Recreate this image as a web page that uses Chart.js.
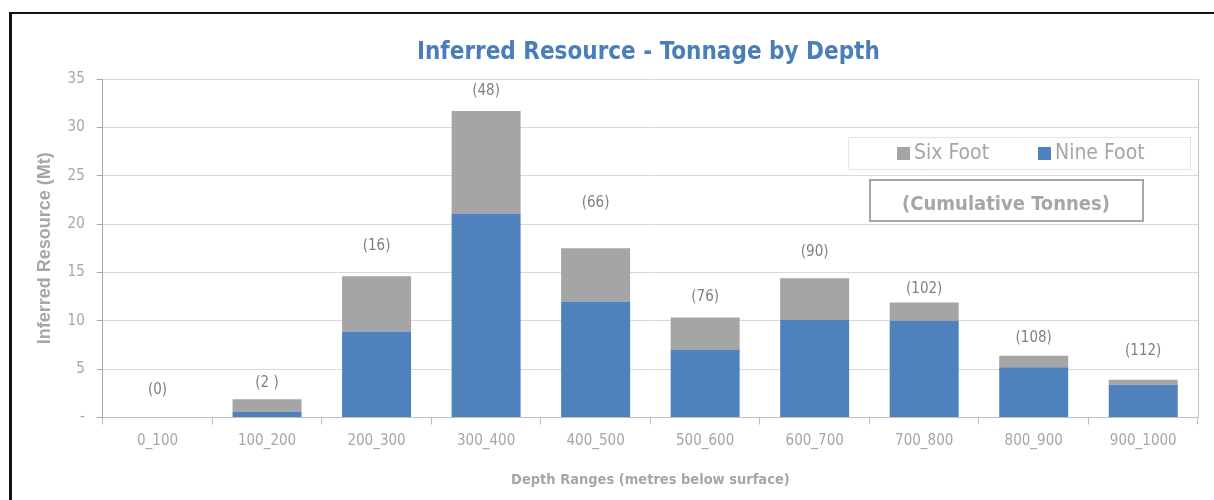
<!DOCTYPE html>
<html>
<head>
<meta charset="utf-8">
<script src="https://cdn.jsdelivr.net/npm/chart.js@4"></script>
<style>
    body { margin: 0; background: #fff; }
    #wrap { position: relative; width: 1214px; height: 500px; }
    #frame {
        position: absolute; left: 9px; top: 12px; right: 0; bottom: 0;
        border-top: 2px solid #111; border-left: 3px solid #111;
        pointer-events: none;
    }
</style>
</head>
<body>
<div id="wrap">
    <canvas id="myChart" width="1214" height="500"></canvas>
    <div id="frame"></div>
</div>
<script>
'use strict'

var depthRanges = ["0_100", "100_200", "200_300", "300_400", "400_500", "500_600", "600_700", "700_800", "800_900", "900_1000"];
var nineFoot = [0, 0.6, 8.9, 21.1, 12.0, 7.0, 10.1, 10.0, 5.2, 3.4];
var sixFoot = [0, 1.3, 5.7, 10.6, 5.5, 3.35, 4.3, 1.9, 1.2, 0.5];
var cumulative = ["(0)", "(2 )", "(16)", "(48)", "(66)", "(76)", "(90)", "(102)", "(108)", "(112)"];
// height (Mt) at which each cumulative label sits
var cumulativeAt = [2.8, 3.6, 17.7, 33.7, 22.2, 12.5, 17.1, 13.3, 8.2, 6.9];
var yTicks = [0, 5, 10, 15, 20, 25, 30, 35];

var narrow = "'Liberation Sans Narrow', 'DejaVu Sans Condensed', 'Open Sans', sans-serif";
var grey = '#A6A6A6';

//###########################--TITLE, LABELS & BOXES--##################################

var extras = {
    id: 'extras',
    afterDatasetsDraw: function (chart) {
        var ctx = chart.ctx;
        var x = chart.scales.x;
        var y = chart.scales.y;
        var area = chart.chartArea;
        ctx.save();

        ctx.fillStyle = '#4A7EBB';
        ctx.font = 'bold 24px ' + narrow;
        ctx.textAlign = 'center';
        ctx.textBaseline = 'middle';
        ctx.fillText('Inferred Resource - Tonnage by Depth', (area.left + area.right) / 2 - 2, 53);

        ctx.fillStyle = '#808080';
        ctx.font = '15px ' + narrow;
        cumulative.forEach(function (txt, i) {
            ctx.fillText(txt, x.getPixelForValue(i), y.getPixelForValue(cumulativeAt[i]));
        });

        // legend box
        ctx.fillStyle = '#fff';
        ctx.fillRect(848, 137, 342, 32);
        ctx.strokeStyle = '#E3E3E3';
        ctx.lineWidth = 1;
        ctx.strokeRect(848.5, 137.5, 342, 32);
        ctx.font = '21px ' + narrow;
        ctx.textAlign = 'left';
        var ds = chart.data.datasets;
        var items = [ds[1], ds[0]];
        var lx = [897, 1038];
        items.forEach(function (d, k) {
            ctx.fillStyle = d.backgroundColor;
            ctx.fillRect(lx[k], 147, 13, 13);
            ctx.fillStyle = grey;
            ctx.fillText(d.label, lx[k] + 17, 154);
        });

        // cumulative box
        ctx.fillStyle = '#fff';
        ctx.fillRect(869, 179, 274, 42);
        ctx.strokeStyle = grey;
        ctx.lineWidth = 2;
        ctx.strokeRect(870, 180, 273, 41);
        ctx.fillStyle = grey;
        ctx.font = 'bold 20px ' + narrow;
        ctx.textAlign = 'center';
        ctx.fillText('(Cumulative Tonnes)', 1006, 205);
        ctx.restore();
    }
};

var ctx = document.getElementById('myChart').getContext('2d');

var chart = new Chart(ctx, {
    type: 'bar',
    data: {
        labels: depthRanges,
        datasets: [{
                label: "Nine Foot",
                backgroundColor: '#4F81BD',
                data: nineFoot,
                categoryPercentage: 1,
                barPercentage: 0.63,
            },
            {
                label: "Six Foot",
                backgroundColor: '#A5A5A5',
                data: sixFoot,
                categoryPercentage: 1,
                barPercentage: 0.63,
            }]
    },
    options: {
        responsive: false,
        animation: false,
        layout: {
            padding: { top: 79, left: 34, right: 16, bottom: 7 }
        },
        plugins: {
            legend: { display: false },
            tooltip: { enabled: false },
            title: { display: false }
        },
        scales: {
            x: {
                stacked: true,
                grid: {
                    offset: true,
                    drawOnChartArea: false,
                    tickLength: 7,
                    color: '#BFBFBF'
                },
                border: { color: '#BFBFBF' },
                ticks: {
                    color: grey,
                    font: { family: narrow, size: 15 },
                    padding: 8
                },
                title: {
                    display: true,
                    text: 'Depth Ranges (metres below surface)',
                    color: grey,
                    font: { family: narrow, size: 14.5, weight: 'bold' },
                    padding: { top: 13 }
                }
            },
            y: {
                stacked: true,
                min: 0,
                max: 35,
                afterBuildTicks: function (axis) {
                    axis.ticks = yTicks.map(function (v) { return { value: v }; });
                },
                grid: {
                    color: '#D9D9D9',
                    tickLength: 6,
                    tickColor: '#A6A6A6'
                },
                border: { color: '#A6A6A6' },
                ticks: {
                    color: grey,
                    padding: 12,
                    font: { family: narrow, size: 15 },
                    callback: function (v) { return v === 0 ? '-' : v; }
                },
                title: {
                    display: true,
                    text: 'Inferred Resource (Mt)',
                    color: grey,
                    font: { family: "'Liberation Sans', Arial, sans-serif", size: 18, weight: 'bold' },
                    padding: { top: 0, bottom: 0 }
                }
            },
            y2: {
                position: 'right',
                min: 0,
                max: 35,
                grid: { drawOnChartArea: false, drawTicks: false },
                border: { color: '#BFBFBF' },
                ticks: { display: false }
            }
        }
    },
    plugins: [extras]
});
</script>
</body>
</html>
